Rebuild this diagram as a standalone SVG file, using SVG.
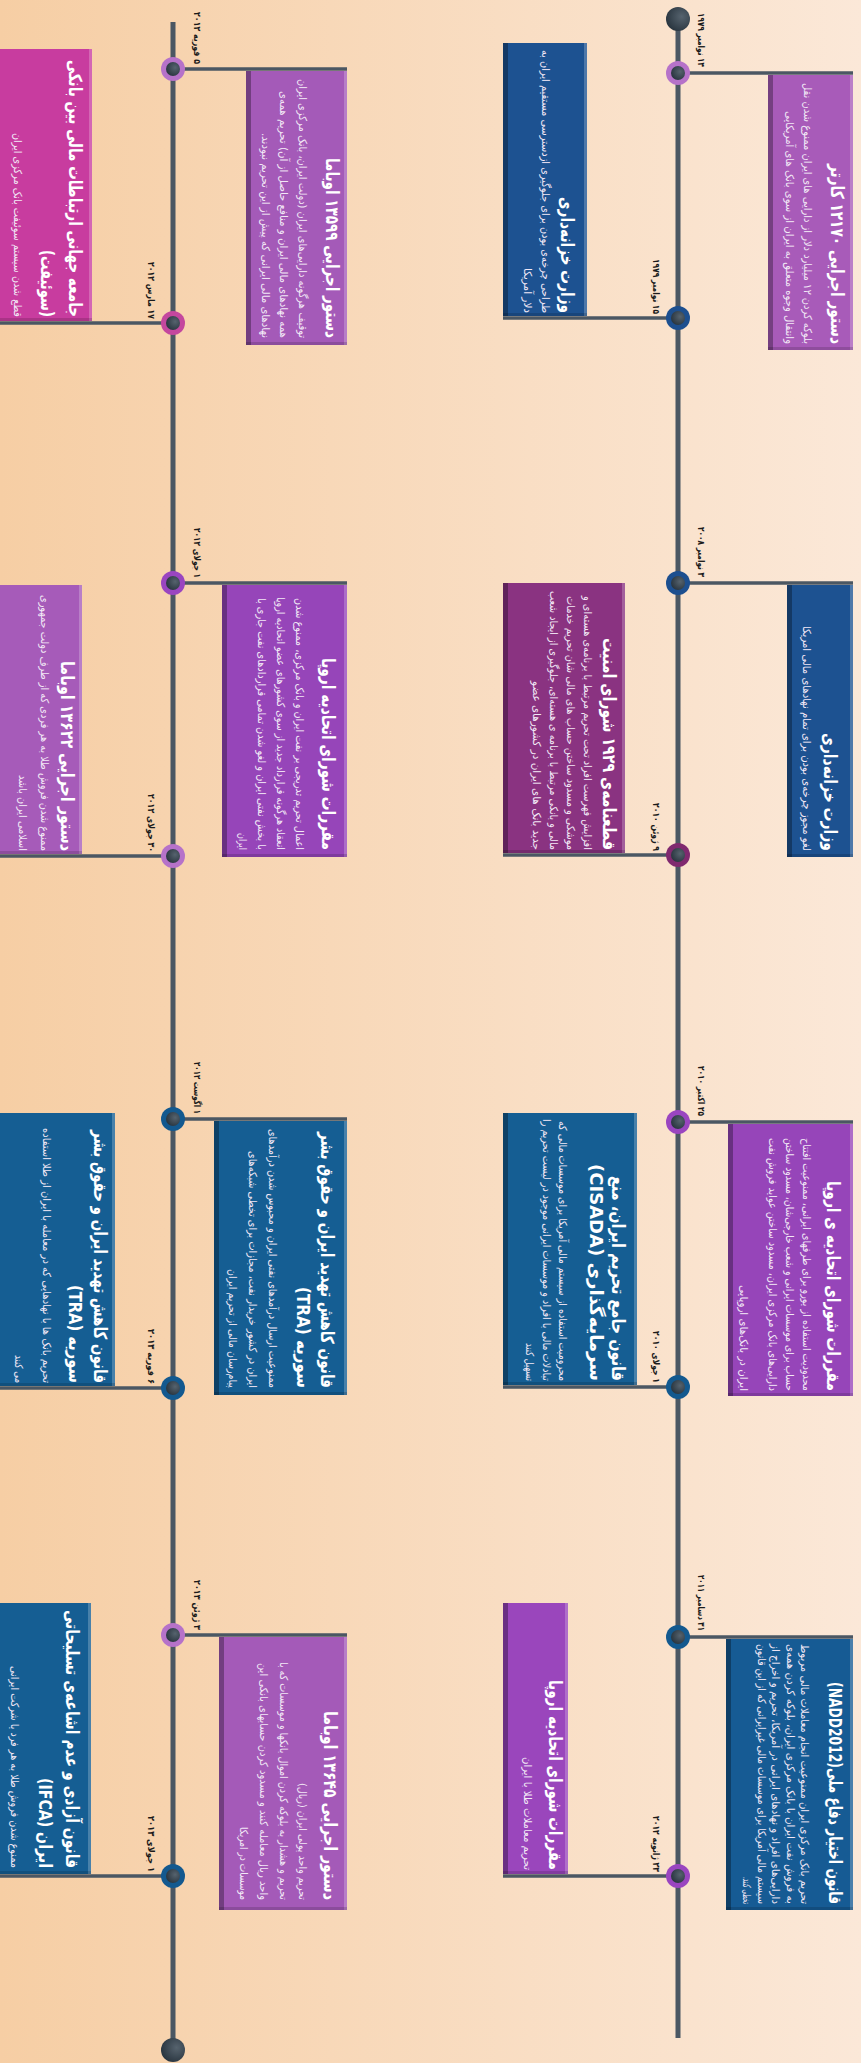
<svg xmlns="http://www.w3.org/2000/svg" width="861" height="2063" viewBox="0 0 861 2063">
<defs>
<linearGradient id="bg" x1="0" y1="0" x2="1" y2="0">
<stop offset="0" stop-color="#f6cea4"/>
<stop offset="1" stop-color="#fbe8d8"/>
</linearGradient>
<radialGradient id="dotg" cx="0.4" cy="0.35" r="0.7">
<stop offset="0" stop-color="#56636e"/>
<stop offset="1" stop-color="#27333d"/>
</radialGradient>
<style>
.ln{stroke:#4b5763;stroke-width:5;fill:none}
.cn{stroke:#4b5763;stroke-width:3.5;fill:none}
.dk{fill:#000;opacity:.3}
.dk2{fill:#000;opacity:.15}
.lt{fill:#fff;opacity:.22}
.lt2{fill:#fff;opacity:.12}
.ti{font-family:"DejaVu Sans",sans-serif;font-weight:bold;font-size:18px;fill:#fff;direction:rtl;text-anchor:start}
.bd{font-family:"DejaVu Sans",sans-serif;font-size:11px;fill:#f2e8f6;direction:rtl;text-anchor:start}
.dt{font-family:"DejaVu Sans",sans-serif;font-weight:bold;font-size:9.5px;fill:#1b1b1b;direction:rtl;text-anchor:start}
.ring{stroke:none}
</style>
</defs>
<rect x="0" y="0" width="861" height="2063" fill="url(#bg)"/>
<g transform="translate(861,0) rotate(90)">
<g id="connectors">
<line class="ln" x1="19" y1="183" x2="2038" y2="183"/>
<line class="ln" x1="22" y1="688" x2="2050" y2="688"/>
<line class="cn" x1="73" y1="183" x2="73" y2="8"/>
<line class="cn" x1="583" y1="183" x2="583" y2="8"/>
<line class="cn" x1="1122" y1="183" x2="1122" y2="8"/>
<line class="cn" x1="1637" y1="183" x2="1637" y2="8"/>
<line class="cn" x1="318" y1="183" x2="318" y2="358"/>
<line class="cn" x1="855" y1="183" x2="855" y2="358"/>
<line class="cn" x1="1387" y1="183" x2="1387" y2="358"/>
<line class="cn" x1="1876" y1="183" x2="1876" y2="358"/>
<line class="cn" x1="69" y1="688" x2="69" y2="514"/>
<line class="cn" x1="583" y1="688" x2="583" y2="514"/>
<line class="cn" x1="1119" y1="688" x2="1119" y2="514"/>
<line class="cn" x1="1635" y1="688" x2="1635" y2="514"/>
<line class="cn" x1="323" y1="688" x2="323" y2="872"/>
<line class="cn" x1="856" y1="688" x2="856" y2="872"/>
<line class="cn" x1="1388" y1="688" x2="1388" y2="872"/>
<line class="cn" x1="1876" y1="688" x2="1876" y2="872"/>
</g>

<g id="start-dot"><circle cx="19" cy="183" r="12" fill="url(#dotg)"/></g>
<g id="end-dot"><circle cx="2050" cy="688" r="12" fill="url(#dotg)"/></g>

<g id="card-a">
<rect x="75" y="8" width="275" height="85" fill="#a85bb9"/>
<rect class="lt" x="75" y="8" width="275" height="3"/><rect class="dk2" x="347" y="8" width="3" height="85"/><rect class="dk" x="75" y="88" width="275" height="5"/>
<text class="ti" x="344" y="30" textLength="180" lengthAdjust="spacingAndGlyphs">دستور اجرایی ۱۲۱۷۰ کارتر</text>
<text class="bd" x="344" y="57" textLength="261" lengthAdjust="spacingAndGlyphs">بلوکه کردن ۱۲ میلیارد دلار از دارایی های ایران ممنوع شدن نقل</text>
<text class="bd" x="344" y="75" textLength="233" lengthAdjust="spacingAndGlyphs">وانتقال وجوه متعلق به ایران از سوی بانک های آمریکایی</text>
<circle cx="73" cy="183" r="12" fill="#b672c9"/><circle cx="73" cy="183" r="7" fill="url(#dotg)"/>
<text class="dt" x="67" y="163" textLength="54" lengthAdjust="spacingAndGlyphs">۱۴ نوامبر ۱۹۷۹</text>
</g>

<g id="card-b">
<rect x="43" y="274" width="273" height="84" fill="#1d5291"/>
<rect class="lt" x="43" y="274" width="273" height="3"/><rect class="dk2" x="313" y="274" width="3" height="84"/><rect class="dk" x="43" y="353" width="273" height="5"/>
<text class="ti" x="313" y="300" textLength="116" lengthAdjust="spacingAndGlyphs">وزارت خزانه‌داری</text>
<text class="bd" x="313" y="319" textLength="263" lengthAdjust="spacingAndGlyphs">طراحی چرخه‌ی بودن برای جلوگیری ازدسترسی مستقیم ایران به</text>
<text class="bd" x="313" y="337" textLength="45" lengthAdjust="spacingAndGlyphs">دلار آمریکا</text>
<circle cx="318" cy="183" r="12" fill="#1d4f8f"/><circle cx="318" cy="183" r="7" fill="url(#dotg)"/>
<text class="dt" x="314" y="208" textLength="55" lengthAdjust="spacingAndGlyphs">۱۵ نوامبر ۱۹۷۹</text>
</g>

<g id="card-c">
<rect x="585" y="8" width="272" height="66" fill="#1d5291"/>
<rect class="lt" x="585" y="8" width="272" height="3"/><rect class="dk2" x="854" y="8" width="3" height="66"/><rect class="dk" x="585" y="69" width="272" height="5"/>
<text class="ti" x="851" y="37" textLength="118" lengthAdjust="spacingAndGlyphs">وزارت خزانه‌داری</text>
<text class="bd" x="851" y="58" textLength="225" lengthAdjust="spacingAndGlyphs">لغو مجوز چرخه‌ی بودن برای تمام نهادهای مالی امریکا</text>
<circle cx="583" cy="183" r="12" fill="#1d4f8f"/><circle cx="583" cy="183" r="7" fill="url(#dotg)"/>
<text class="dt" x="577" y="163" textLength="50" lengthAdjust="spacingAndGlyphs">۳ نوامبر ۲۰۰۸</text>
</g>

<g id="card-d">
<rect x="583" y="236" width="270" height="122" fill="#8a3381"/>
<rect class="lt" x="583" y="236" width="270" height="3"/><rect class="dk2" x="850" y="236" width="3" height="122"/><rect class="dk" x="583" y="353" width="270" height="5"/>
<text class="ti" x="850" y="258" textLength="212" lengthAdjust="spacingAndGlyphs">قطعنامه‌ی ۱۹۲۹ شورای امنیت</text>
<text class="bd" x="850" y="277" textLength="254" lengthAdjust="spacingAndGlyphs">افزایش فهرست افراد تحت تحریم مرتبط با برنامه‌ی هسته‌ای و</text>
<text class="bd" x="850" y="294" textLength="254" lengthAdjust="spacingAndGlyphs">موشکی و مسدود ساختن حساب های مالی شان تحریم خدمات</text>
<text class="bd" x="850" y="311" textLength="259" lengthAdjust="spacingAndGlyphs">مالی و بانکی مرتبط با برنامه ی هسته‌ای، جلوگیری از ایجاد شعب</text>
<text class="bd" x="850" y="328" textLength="169" lengthAdjust="spacingAndGlyphs">جدید بانک های ایران در کشورهای عضو</text>
<circle cx="855" cy="183" r="12" fill="#80296f"/><circle cx="855" cy="183" r="7" fill="url(#dotg)"/>
<text class="dt" x="851" y="208" textLength="48" lengthAdjust="spacingAndGlyphs">۹ ژوئن ۲۰۱۰</text>
</g>

<g id="card-e">
<rect x="1124" y="8" width="272" height="125" fill="#9645b9"/>
<rect class="lt" x="1124" y="8" width="272" height="3"/><rect class="dk2" x="1393" y="8" width="3" height="125"/><rect class="dk" x="1124" y="128" width="272" height="5"/>
<text class="ti" x="1391" y="34" textLength="210" lengthAdjust="spacingAndGlyphs">مقررات شورای اتحادیه ی اروپا</text>
<text class="bd" x="1391" y="58" textLength="253" lengthAdjust="spacingAndGlyphs">محدودیت استفاده از یورو برای طرفهای ایرانی، ممنوعیت افتتاح</text>
<text class="bd" x="1391" y="75" textLength="253" lengthAdjust="spacingAndGlyphs">حساب برای موسسات ایرانی و شعب خارجی‌شان، مسدود ساختن</text>
<text class="bd" x="1391" y="92" textLength="253" lengthAdjust="spacingAndGlyphs">دارایی‌های بانک مرکزی ایران، مسدود ساختن عواید فروش نفت</text>
<text class="bd" x="1391" y="121" textLength="106" lengthAdjust="spacingAndGlyphs">ایران در بانک‌های اروپایی</text>
<circle cx="1122" cy="183" r="12" fill="#9a45c0"/><circle cx="1122" cy="183" r="7" fill="url(#dotg)"/>
<text class="dt" x="1116" y="163" textLength="50" lengthAdjust="spacingAndGlyphs">۲۵ اکتبر ۲۰۱۰</text>
</g>

<g id="card-f">
<rect x="1113" y="224" width="272" height="134" fill="#155e93"/>
<rect class="lt" x="1113" y="224" width="272" height="3"/><rect class="dk2" x="1382" y="224" width="3" height="134"/><rect class="dk" x="1113" y="353" width="272" height="5"/>
<text class="ti" x="1381" y="249" textLength="205" lengthAdjust="spacingAndGlyphs">قانون جامع تحریم ایران، منع</text>
<text class="ti" x="1381" y="271" textLength="217" lengthAdjust="spacingAndGlyphs">سرمایه‌گذاری (CISADA)</text>
<text class="bd" x="1381" y="302" textLength="260" lengthAdjust="spacingAndGlyphs">محرومیت استفاده از سیستم مالی آمریکا برای موسسات مالی که</text>
<text class="bd" x="1381" y="318" textLength="262" lengthAdjust="spacingAndGlyphs">تبادلات مالی با افراد و موسسات ایرانی موجود در لیست تحریم را</text>
<text class="bd" x="1381" y="335" textLength="38" lengthAdjust="spacingAndGlyphs">تسهیل کنند</text>
<circle cx="1387" cy="183" r="12" fill="#13598f"/><circle cx="1387" cy="183" r="7" fill="url(#dotg)"/>
<text class="dt" x="1383" y="208" textLength="52" lengthAdjust="spacingAndGlyphs">۱ جولای ۲۰۱۰</text>
</g>

<g id="card-g">
<rect x="1639" y="8" width="271" height="127" fill="#165b94"/>
<rect class="lt" x="1639" y="8" width="271" height="3"/><rect class="dk2" x="1907" y="8" width="3" height="127"/><rect class="dk" x="1639" y="130" width="271" height="5"/>
<text class="ti" x="1904" y="32" textLength="222" lengthAdjust="spacingAndGlyphs">قانون اختیار دفاع ملی(NADD2012)</text>
<text class="bd" x="1904" y="60" textLength="260" lengthAdjust="spacingAndGlyphs">تحریم بانک مرکزی ایران ممنوعیت انجام معاملات مالی مربوط</text>
<text class="bd" x="1904" y="74.5" textLength="260" lengthAdjust="spacingAndGlyphs">به فروش نفت ایران با بانک مرکزی ایران، بلوکه کردن همه‌ی</text>
<text class="bd" x="1904" y="89" textLength="260" lengthAdjust="spacingAndGlyphs">دارایی‌های افراد و نهادهای ایرانی در آمریکا، تحریم و اخراج از</text>
<text class="bd" x="1904" y="103.5" textLength="260" lengthAdjust="spacingAndGlyphs">سیستم مالی آمریکا برای موسسات مالی غیرایرانی که از این قانون</text>
<text class="bd" x="1904" y="118" textLength="27" lengthAdjust="spacingAndGlyphs">تخطی کنند.</text>
<circle cx="1637" cy="183" r="12" fill="#13598f"/><circle cx="1637" cy="183" r="7" fill="url(#dotg)"/>
<text class="dt" x="1631" y="163" textLength="56" lengthAdjust="spacingAndGlyphs">۳۱ دسامبر ۲۰۱۱</text>
</g>

<g id="card-h">
<rect x="1603" y="293" width="271" height="65" fill="#9a46bc"/>
<rect class="lt" x="1603" y="293" width="271" height="3"/><rect class="dk2" x="1871" y="293" width="3" height="65"/><rect class="dk" x="1603" y="353" width="271" height="5"/>
<text class="ti" x="1870" y="312" textLength="190" lengthAdjust="spacingAndGlyphs">مقررات شورای اتحادیه اروپا</text>
<text class="bd" x="1870" y="337" textLength="113" lengthAdjust="spacingAndGlyphs">تحریم معاملات طلا با ایران</text>
<circle cx="1876" cy="183" r="12" fill="#9a45c0"/><circle cx="1876" cy="183" r="7" fill="url(#dotg)"/>
<text class="dt" x="1872" y="208" textLength="56" lengthAdjust="spacingAndGlyphs">۲۳ ژانویه ۲۰۱۲</text>
</g>

<g id="card-i">
<rect x="71" y="514" width="274" height="101" fill="#a45ab8"/>
<rect class="lt" x="71" y="514" width="274" height="3"/><rect class="dk2" x="342" y="514" width="3" height="101"/><rect class="dk" x="71" y="610" width="274" height="5"/>
<text class="ti" x="338" y="535" textLength="180" lengthAdjust="spacingAndGlyphs">دستور اجرایی ۱۳۵۹۹ اوباما</text>
<text class="bd" x="338" y="562" textLength="259" lengthAdjust="spacingAndGlyphs">توقیف هرگونه دارایی‌های ایران (دولت ایران، بانک مرکزی ایران</text>
<text class="bd" x="338" y="581" textLength="247" lengthAdjust="spacingAndGlyphs">همه نهادهای مالی ایران و منافع حاصل از آن) تحریم همه‌ی</text>
<text class="bd" x="338" y="599" textLength="205" lengthAdjust="spacingAndGlyphs">نهادهای مالی ایرانی که پیش از این تحریم نبودند.</text>
<circle cx="69" cy="688" r="12" fill="#b672c9"/><circle cx="69" cy="688" r="7" fill="url(#dotg)"/>
<text class="dt" x="64" y="667" textLength="52" lengthAdjust="spacingAndGlyphs">۵ فوریه ۲۰۱۲</text>
</g>

<g id="card-j">
<rect x="49" y="769" width="272" height="103" fill="#c83c9f"/>
<rect class="lt" x="49" y="769" width="272" height="3"/><rect class="dk2" x="318" y="769" width="3" height="103"/>
<text class="ti" x="317" y="792" textLength="257" lengthAdjust="spacingAndGlyphs">جامعه جهانی ارتباطات مالی بین بانکی</text>
<text class="ti" x="317" y="820" textLength="67" lengthAdjust="spacingAndGlyphs">(سوئیفت)</text>
<text class="bd" x="317" y="847" textLength="184" lengthAdjust="spacingAndGlyphs">قطع شدن سیستم سوئیفت بانک مرکزی ایران</text>
<circle cx="323" cy="688" r="12" fill="#c4479e"/><circle cx="323" cy="688" r="7" fill="url(#dotg)"/>
<text class="dt" x="319" y="713" textLength="57" lengthAdjust="spacingAndGlyphs">۱۷ مارس ۲۰۱۲</text>
</g>

<g id="card-k">
<rect x="585" y="514" width="272" height="125" fill="#9645b9"/>
<rect class="lt" x="585" y="514" width="272" height="3"/><rect class="dk2" x="854" y="514" width="3" height="125"/><rect class="dk" x="585" y="634" width="272" height="5"/>
<text class="ti" x="850" y="539" textLength="192" lengthAdjust="spacingAndGlyphs">مقررات شورای اتحادیه اروپا</text>
<text class="bd" x="850" y="565" textLength="252" lengthAdjust="spacingAndGlyphs">اعمال تحریم تدریجی بر نفت ایران و بانک مرکزی، ممنوع شدن</text>
<text class="bd" x="850" y="584" textLength="253" lengthAdjust="spacingAndGlyphs">انعقاد هرگونه قرارداد جدید از سوی کشورهای عضو اتحادیه اروپا</text>
<text class="bd" x="850" y="603" textLength="252" lengthAdjust="spacingAndGlyphs">با بخش نفتی ایران و لغو شدن تمامی قراردادهای نفت جاری با</text>
<text class="bd" x="850" y="622" textLength="17" lengthAdjust="spacingAndGlyphs">ایران</text>
<circle cx="583" cy="688" r="12" fill="#9a45c0"/><circle cx="583" cy="688" r="7" fill="url(#dotg)"/>
<text class="dt" x="578" y="667" textLength="50" lengthAdjust="spacingAndGlyphs">۱ جولای ۲۰۱۲</text>
</g>

<g id="card-l">
<rect x="585" y="779" width="269" height="93" fill="#a65bb9"/>
<rect class="lt" x="585" y="779" width="269" height="3"/><rect class="dk2" x="851" y="779" width="3" height="93"/>
<text class="ti" x="851" y="800" textLength="190" lengthAdjust="spacingAndGlyphs">دستور اجرایی ۱۳۶۲۲ اوباما</text>
<text class="bd" x="851" y="820" textLength="256" lengthAdjust="spacingAndGlyphs">ممنوع شدن فروش طلا به هر فردی که از طرف دولت جمهوری</text>
<text class="bd" x="851" y="842" textLength="76" lengthAdjust="spacingAndGlyphs">اسلامی ایران باشد</text>
<circle cx="856" cy="688" r="12" fill="#b672c9"/><circle cx="856" cy="688" r="7" fill="url(#dotg)"/>
<text class="dt" x="852" y="713" textLength="58" lengthAdjust="spacingAndGlyphs">۳۰ جولای ۲۰۱۲</text>
</g>

<g id="card-m">
<rect x="1121" y="514" width="274" height="133" fill="#155e93"/>
<rect class="lt" x="1121" y="514" width="274" height="3"/><rect class="dk2" x="1392" y="514" width="3" height="133"/><rect class="dk" x="1121" y="642" width="274" height="5"/>
<text class="ti" x="1388" y="540" textLength="256" lengthAdjust="spacingAndGlyphs">قانون کاهش تهدید ایران و حقوق بشر</text>
<text class="ti" x="1388" y="564" textLength="101" lengthAdjust="spacingAndGlyphs">سوریه (TRA)</text>
<text class="bd" x="1388" y="592" textLength="259" lengthAdjust="spacingAndGlyphs">ممنوعیت ارسال درآمدهای نفتی ایران و محبوس شدن درآمدهای</text>
<text class="bd" x="1388" y="612" textLength="237" lengthAdjust="spacingAndGlyphs">ایران در کشور خریدار نفت، مجازات برای تخطی شبکه‌های</text>
<text class="bd" x="1388" y="632" textLength="119" lengthAdjust="spacingAndGlyphs">پیام‌رسان مالی از تحریم ایران</text>
<circle cx="1119" cy="688" r="12" fill="#13598f"/><circle cx="1119" cy="688" r="7" fill="url(#dotg)"/>
<text class="dt" x="1114" y="667" textLength="52" lengthAdjust="spacingAndGlyphs">۱ اگوست ۲۰۱۲</text>
</g>

<g id="card-n">
<rect x="1113" y="746" width="273" height="126" fill="#155e93"/>
<rect class="lt" x="1113" y="746" width="273" height="3"/><rect class="dk2" x="1383" y="746" width="3" height="126"/>
<text class="ti" x="1383" y="767" textLength="253" lengthAdjust="spacingAndGlyphs">قانون کاهش تهدید ایران و حقوق بشر</text>
<text class="ti" x="1383" y="792" textLength="98" lengthAdjust="spacingAndGlyphs">سوریه (TRA)</text>
<text class="bd" x="1383" y="818" textLength="255" lengthAdjust="spacingAndGlyphs">تحریم بانک ها با نهادهایی که در معامله با ایران از طلا استفاده</text>
<text class="bd" x="1383" y="846" textLength="28" lengthAdjust="spacingAndGlyphs">می کنند</text>
<circle cx="1388" cy="688" r="12" fill="#13598f"/><circle cx="1388" cy="688" r="7" fill="url(#dotg)"/>
<text class="dt" x="1384" y="713" textLength="55" lengthAdjust="spacingAndGlyphs">۶ فوریه ۲۰۱۳</text>
</g>

<g id="card-o">
<rect x="1637" y="514" width="273" height="128" fill="#a45ab8"/>
<rect class="lt" x="1637" y="514" width="273" height="3"/><rect class="dk2" x="1907" y="514" width="3" height="128"/><rect class="dk" x="1637" y="637" width="273" height="5"/>
<text class="ti" x="1900" y="537" textLength="189" lengthAdjust="spacingAndGlyphs">دستور اجرایی ۱۳۶۴۵ اوباما</text>
<text class="bd" x="1900" y="562" textLength="117" lengthAdjust="spacingAndGlyphs">تحریم واحد پولی ایران (ریال)</text>
<text class="bd" x="1900" y="581" textLength="238" lengthAdjust="spacingAndGlyphs">تحریم و هشدار به بلوکه کردن اموال بانکها و موسسات که با</text>
<text class="bd" x="1900" y="601" textLength="237" lengthAdjust="spacingAndGlyphs">واحد ریال معامله کنند و مسدود کردن حسابهای بانکی این</text>
<text class="bd" x="1900" y="621" textLength="73" lengthAdjust="spacingAndGlyphs">موسسات در امریکا</text>
<circle cx="1635" cy="688" r="12" fill="#b672c9"/><circle cx="1635" cy="688" r="7" fill="url(#dotg)"/>
<text class="dt" x="1630" y="667" textLength="50" lengthAdjust="spacingAndGlyphs">۳ ژوئن ۲۰۱۳</text>
</g>

<g id="card-p">
<rect x="1603" y="770" width="271" height="102" fill="#155e93"/>
<rect class="lt" x="1603" y="770" width="271" height="3"/><rect class="dk2" x="1871" y="770" width="3" height="102"/>
<text class="ti" x="1868" y="795" textLength="258" lengthAdjust="spacingAndGlyphs">قانون آزادی و عدم اشاعه‌ی تسلیحاتی</text>
<text class="ti" x="1868" y="822" textLength="90" lengthAdjust="spacingAndGlyphs">ایران (IFCA)</text>
<text class="bd" x="1868" y="850" textLength="202" lengthAdjust="spacingAndGlyphs">ممنوع شدن فروش طلا به هر فرد یا شرکت ایرانی</text>
<circle cx="1876" cy="688" r="12" fill="#13598f"/><circle cx="1876" cy="688" r="7" fill="url(#dotg)"/>
<text class="dt" x="1872" y="713" textLength="56" lengthAdjust="spacingAndGlyphs">۱ جولای ۲۰۱۳</text>
</g>
</g>
</svg>
